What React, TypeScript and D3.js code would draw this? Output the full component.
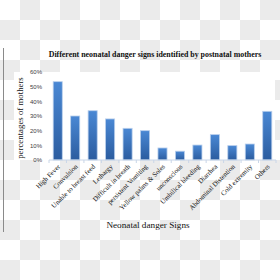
import { useRef, useMemo, useEffect } from 'react';
import * as d3 from 'd3';

// signs named by mothers, in the order of the original figure
const signs = [
  'High Fever',
  'Convulsion',
  'Unable to breast feed',
  'Lethargy',
  'Difficult in breath',
  'persistent Vomiting',
  'Yellow palms & Soles',
  'unconscious',
  'Umbilical bleeding',
  'Diarrhea',
  'Abdominal Distention',
  'Cold  extremity',
  'Others',
];
// share of mothers
const shares = [0.534, 0.30, 0.336, 0.28, 0.216, 0.20, 0.082, 0.06, 0.102, 0.173, 0.098, 0.109, 0.332];
const yTicks = [0, 0.1, 0.2, 0.3, 0.4, 0.5, 0.6];

const width = 280;
const height = 280;
const margin = { top: 72, right: 4, bottom: 120, left: 49 };

const App = () => {
  const axesRef = useRef(null);

  const boundWidth = width - margin.left - margin.right;
  const boundHeight = height - margin.top - margin.bottom;

  const xScale = useMemo(() => {
    return d3.scaleBand()
      .domain(signs)
      .range([0, boundWidth])
      .paddingInner(0.48)
      .paddingOuter(0.24)
  }, [boundWidth]);

  const yScale = useMemo(() => {
    return d3.scaleLinear()
      .domain([0, 0.6])
      .range([boundHeight, 0])
  }, [boundHeight]);

  useEffect(() => {
    const g = d3.select(axesRef.current);
    g.selectAll('*').remove();

    // Y AXIS (labels only)
    g.append('g')
      .call(d3.axisLeft(yScale).tickValues(yTicks).tickFormat(d3.format('.0%')).tickSize(0).tickPadding(7))
      .call(s => s.select('.domain').remove())
      .call(s => s.selectAll('text')
        .attr('font-family', 'Liberation Sans, Arial, sans-serif')
        .attr('font-size', 6)
        .attr('fill', '#404040'));

    // X AXIS
    const step = xScale.step();
    const x0 = xScale(signs[0]) - step * (xScale.paddingInner() / 2);
    const bounds = signs.map((s, i) => x0 + i * step).concat([x0 + signs.length * step]);
    const xg = g.append('g').attr('transform', `translate(0, ${boundHeight})`);
    xg.append('line')
      .attr('x1', bounds[0]).attr('x2', bounds[bounds.length - 1])
      .attr('y1', 0).attr('y2', 0)
      .attr('stroke', '#c9d6e8').attr('stroke-width', 1);
    xg.selectAll('line.tick')
      .data(bounds)
      .join('line')
      .attr('class', 'tick')
      .attr('x1', d => d).attr('x2', d => d)
      .attr('y1', 0).attr('y2', 3)
      .attr('stroke', '#c9d6e8');
    xg.selectAll('text')
      .data(signs)
      .join('text')
      .attr('text-anchor', 'end')
      .attr('font-family', 'Liberation Serif, Times New Roman, serif')
      .attr('font-size', 6.9)
      .attr('fill', '#111')
      .attr('transform', d => `translate(${xScale(d) + xScale.bandwidth() / 2 + 3}, 7) rotate(-45)`)
      .text(d => d);
  }, [xScale, yScale, boundHeight]);

  return (
    <svg
      width={width}
      height={height}
      style={{ position: 'absolute', left: 0, top: 0 }}
    >
      <defs>
        <pattern id="checker" width="40" height="40" patternUnits="userSpaceOnUse">
          <rect width="40" height="40" fill="#ffffff" />
          <rect x="20" y="0" width="20" height="20" fill="#ebebeb" />
          <rect x="0" y="20" width="20" height="20" fill="#ebebeb" />
        </pattern>
        <linearGradient id="barFill" x1="0" y1="0" x2="0" y2="1">
          <stop offset="0%" stopColor="#4a88d4" />
          <stop offset="100%" stopColor="#2b5c9f" />
        </linearGradient>
      </defs>
      <rect width={width} height={height} fill="url(#checker)" />
      <rect x={14} y={margin.top} width={width - 5 - 14} height={boundHeight} fill="#ffffff" />
      <line x1={3.5} x2={3.5} y1={48} y2={232} stroke="#8a8a8a" strokeWidth={1} />

      <text
        x={155}
        y={57}
        textAnchor="middle"
        fontFamily="Liberation Serif, Times New Roman, serif"
        fontWeight="bold"
        fontSize={7.9}
        fill="#111"
      >
        Different neonatal danger signs identified by postnatal mothers
      </text>
      <text
        transform={`translate(23, ${margin.top + boundHeight / 2 + 2}) rotate(-90)`}
        textAnchor="middle"
        fontFamily="Liberation Serif, Times New Roman, serif"
        fontSize={8.8}
        fill="#111"
      >
        percentages of mothers
      </text>
      <text
        x={148}
        y={228}
        textAnchor="middle"
        fontFamily="Liberation Serif, Times New Roman, serif"
        fontSize={9.2}
        fill="#111"
      >
        Neonatal danger Signs
      </text>

      <g transform={`translate(${margin.left}, ${margin.top})`}>
        {signs.map((s, i) => (
          <rect
            key={s}
            x={xScale(s)}
            y={yScale(shares[i])}
            width={xScale.bandwidth()}
            height={boundHeight - yScale(shares[i])}
            fill="url(#barFill)"
            stroke="#b9cfec"
            strokeWidth={0.8}
          />
        ))}
      </g>
      <g ref={axesRef} transform={`translate(${margin.left}, ${margin.top})`} />
    </svg>
  );
};

export default App;
